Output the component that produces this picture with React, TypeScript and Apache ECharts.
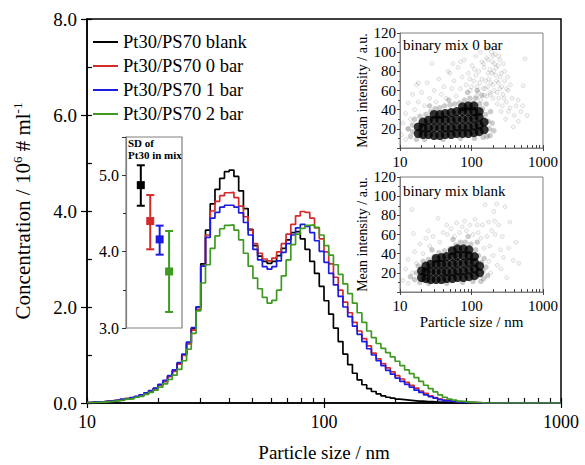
import React, { useEffect, useRef } from 'react';
import * as echarts from 'echarts';

const FONT = "'Liberation Serif', 'Times New Roman', serif";

// Histogram bin edges (nm), log-spaced
const binEdges = [
  10.0, 10.47, 10.96, 11.48, 12.02, 12.59, 13.18, 13.8, 14.45, 15.14,
  15.85, 16.6, 17.38, 18.2, 19.05, 19.95, 20.89, 21.88, 22.91, 23.99,
  25.12, 26.3, 27.54, 28.84, 30.2, 31.62, 33.11, 34.67, 36.31, 38.02,
  39.81, 41.69, 43.65, 45.71, 47.86, 50.12, 52.48, 54.95, 57.54, 60.26,
  63.1, 66.07, 69.18, 72.44, 75.86, 79.43, 83.18, 87.1, 91.2, 95.5,
  100.0, 104.7, 109.6, 114.8, 120.2, 125.9, 131.8, 138.0, 144.5, 151.4,
  158.5, 166.0, 173.8, 182.0, 190.5, 199.5, 208.9, 218.8, 229.1, 239.9,
  251.2, 263.0, 275.4, 288.4, 302.0, 316.2, 331.1, 346.7, 363.1, 380.2,
  398.1, 416.9, 436.5, 457.1, 478.6, 501.2, 524.8, 549.5, 575.4, 602.6,
  631.0, 660.7, 691.8, 724.4, 758.6, 794.3, 831.8, 871.0, 912.0, 955.0,
  1000.0,
];

// Concentration (10^6 # / ml) per bin
const blankConc = [
  0.01, 0.02, 0.02, 0.03, 0.04, 0.05, 0.06, 0.07, 0.09, 0.10,
  0.13, 0.16, 0.20, 0.25, 0.30, 0.38, 0.45, 0.56, 0.67, 0.82,
  1.00, 1.25, 1.55, 2.00, 2.90, 3.60, 4.15, 4.45, 4.68, 4.82,
  4.85, 4.72, 4.42, 4.05, 3.62, 3.28, 3.06, 2.95, 2.91, 2.95,
  3.07, 3.22, 3.40, 3.55, 3.57, 3.42, 3.20, 2.95, 2.70, 2.43,
  2.13, 1.85, 1.56, 1.28, 1.02, 0.80, 0.62, 0.48, 0.38, 0.30,
  0.24, 0.19, 0.15, 0.12, 0.10, 0.08, 0.07, 0.06, 0.05, 0.04,
  0.04, 0.03, 0.03, 0.02, 0.02, 0.02, 0.01, 0.01, 0.01, 0.01,
  0.01, 0.01, 0, 0, 0, 0, 0, 0, 0, 0,
  0, 0, 0, 0, 0, 0, 0, 0, 0, 0,
];
const bar0Conc = [
  0.01, 0.02, 0.02, 0.03, 0.04, 0.05, 0.06, 0.07, 0.09, 0.10,
  0.13, 0.16, 0.20, 0.25, 0.30, 0.37, 0.45, 0.55, 0.66, 0.81,
  0.99, 1.23, 1.52, 1.95, 2.85, 3.50, 4.00, 4.20, 4.32, 4.38,
  4.39, 4.28, 4.10, 3.88, 3.60, 3.32, 3.12, 3.00, 2.96, 3.02,
  3.15, 3.32, 3.52, 3.72, 3.90, 3.99, 3.97, 3.85, 3.65, 3.42,
  3.15, 2.90, 2.62, 2.35, 2.10, 1.88, 1.68, 1.50, 1.34, 1.19,
  1.04, 0.92, 0.82, 0.73, 0.65, 0.57, 0.50, 0.43, 0.37, 0.31,
  0.25, 0.20, 0.15, 0.11, 0.08, 0.06, 0.04, 0.03, 0.02, 0.02,
  0.01, 0.01, 0.01, 0, 0, 0, 0, 0, 0, 0,
  0, 0, 0, 0, 0, 0, 0, 0, 0, 0,
];
const bar1Conc = [
  0.01, 0.02, 0.02, 0.03, 0.04, 0.05, 0.06, 0.08, 0.09, 0.11,
  0.14, 0.17, 0.21, 0.26, 0.31, 0.39, 0.47, 0.57, 0.69, 0.84,
  1.02, 1.27, 1.57, 2.00, 2.85, 3.45, 3.85, 3.97, 4.08, 4.12,
  4.12, 4.08, 3.96, 3.76, 3.50, 3.20, 2.98, 2.84, 2.79, 2.84,
  2.96, 3.14, 3.32, 3.50, 3.65, 3.72, 3.68, 3.55, 3.38, 3.16,
  2.93, 2.70, 2.46, 2.22, 2.00, 1.80, 1.60, 1.43, 1.28, 1.13,
  1.00, 0.88, 0.78, 0.68, 0.60, 0.52, 0.45, 0.39, 0.33, 0.27,
  0.22, 0.17, 0.13, 0.10, 0.07, 0.05, 0.04, 0.03, 0.02, 0.01,
  0.01, 0.01, 0, 0, 0, 0, 0, 0, 0, 0,
  0, 0, 0, 0, 0, 0, 0, 0, 0, 0,
];
const bar2Conc = [
  0.01, 0.01, 0.02, 0.02, 0.03, 0.04, 0.05, 0.06, 0.08, 0.09,
  0.12, 0.14, 0.18, 0.22, 0.27, 0.33, 0.40, 0.49, 0.58, 0.70,
  0.88, 1.12, 1.45, 1.92, 2.50, 2.88, 3.22, 3.48, 3.63, 3.70,
  3.71, 3.60, 3.40, 3.12, 2.85, 2.60, 2.38, 2.20, 2.08, 2.14,
  2.35, 2.65, 2.98, 3.30, 3.52, 3.64, 3.70, 3.71, 3.66, 3.50,
  3.28, 3.08, 2.88, 2.68, 2.48, 2.28, 2.08, 1.88, 1.68, 1.50,
  1.36, 1.24, 1.14, 1.05, 0.96, 0.87, 0.78, 0.69, 0.61, 0.53,
  0.45, 0.37, 0.30, 0.23, 0.17, 0.12, 0.08, 0.06, 0.04, 0.03,
  0.02, 0.01, 0.01, 0, 0, 0, 0, 0, 0, 0,
  0, 0, 0, 0, 0, 0, 0, 0, 0, 0,
];

const seriesNames = ['Pt30/PS70 blank', 'Pt30/PS70 0 bar', 'Pt30/PS70 1 bar', 'Pt30/PS70 2 bar'];
const seriesColors = ['#000000', '#d42a2a', '#1c1ce0', '#3f9a22'];
const seriesValues = [blankConc, bar0Conc, bar1Conc, bar2Conc];

const yTickLabels = [0, 2, 4, 6, 8];
const logTickValues = [
  10, 20, 30, 40, 50, 60, 70, 80, 90,
  100, 200, 300, 400, 500, 600, 700, 800, 900, 1000,
];

// SD inset (Pt30 in mix)
const sdLabels = ['blank', '0 bar', '1 bar', '2 bar'];
const sdMean = [4.87, 4.40, 4.16, 3.74];
const sdLow = [4.60, 4.03, 3.96, 3.21];
const sdHigh = [5.13, 4.74, 4.34, 4.27];

// Scatter inset "binary mix 0 bar": [size nm, mean intensity]
const mix0Core = [
  [18, 15], [18, 22], [21, 14], [21, 21], [21, 27], [25, 14], [25, 21], [25, 29],
  [30, 13], [30, 21], [30, 29], [30, 35], [36, 13], [36, 21], [36, 29], [36, 35],
  [43, 14], [43, 21], [43, 29], [43, 36], [52, 14], [52, 21], [52, 29], [52, 37],
  [62, 15], [62, 22], [62, 30], [62, 38], [75, 15], [75, 22], [75, 30], [75, 38], [75, 43],
  [90, 15], [90, 22], [90, 30], [90, 38], [90, 44], [108, 16], [108, 23], [108, 31],
  [108, 38], [108, 44], [128, 17], [128, 24], [128, 32], [128, 38], [150, 19], [150, 27],
];
const mix0Halo = [
  [14, 12], [15, 17], [15, 24], [16, 30], [17, 9], [19, 33], [23, 35], [27, 38],
  [31, 41], [36, 42], [42, 44], [50, 45], [58, 46], [68, 47], [80, 50], [95, 52],
  [115, 52], [130, 46], [142, 41], [158, 35], [170, 28], [178, 20], [182, 13], [165, 12],
  [22, 9], [40, 9], [70, 10], [110, 10], [145, 11], [13, 20], [26, 44], [48, 50],
  [88, 58], [120, 60], [140, 55], [160, 46], [185, 38], [195, 26], [205, 18],
];
const mix0Sparse = [
  [10.5, 14], [11, 26], [12, 9], [12, 36], [13, 20], [13, 47], [14, 30], [15, 56],
  [16, 40], [17, 66], [18, 48], [20, 58], [22, 44], [24, 68], [26, 52], [28, 88],
  [30, 60], [32, 48], [35, 72], [38, 56], [41, 64], [44, 52], [47, 80], [50, 78],
  [53, 62], [57, 70], [61, 54], [65, 84], [70, 62], [74, 74], [79, 92], [84, 66],
  [90, 78], [96, 60], [102, 86], [108, 70], [114, 96], [120, 64], [126, 80], [133, 100],
  [140, 72], [147, 88], [155, 62], [162, 94], [170, 78], [178, 104], [186, 68], [195, 90],
  [204, 80], [214, 98], [224, 70], [235, 86], [248, 62], [260, 78], [275, 56], [290, 70],
  [305, 48], [325, 60], [345, 42], [370, 52], [395, 34], [420, 44], [450, 28], [490, 38],
  [530, 65], [560, 93], [600, 34], [385, 22], [300, 30], [260, 38], [230, 46], [200, 52],
  [180, 58], [165, 54], [150, 84], [190, 100], [210, 88], [240, 96], [280, 88], [320, 74],
  [180, 82], [140, 90], [110, 82], [95, 72], [70, 90], [55, 88], [240, 52], [270, 44],
  [330, 38], [18, 68], [450, 50], [520, 44],
  [105, 48], [118, 54], [125, 58], [135, 50], [145, 62], [152, 55], [158, 70], [168, 64],
  [175, 72], [185, 56], [192, 78], [198, 66], [208, 60], [218, 76], [228, 58], [238, 68],
  [252, 74], [265, 64], [285, 52], [310, 62], [220, 84], [200, 96], [170, 92], [160, 104],
  [130, 68], [115, 76], [100, 64], [250, 92], [290, 80], [350, 66],
];

// Scatter inset "binary mix blank"
const blankCore = [
  [20, 15], [20, 22], [23, 14], [23, 21], [23, 27], [27, 13], [27, 21], [27, 29],
  [32, 13], [32, 21], [32, 29], [32, 35], [38, 13], [38, 21], [38, 29], [38, 36],
  [45, 14], [45, 21], [45, 29], [45, 37], [54, 14], [54, 21], [54, 29], [54, 37], [54, 43],
  [64, 15], [64, 22], [64, 30], [64, 38], [64, 45], [77, 15], [77, 22], [77, 30], [77, 38],
  [77, 45], [92, 16], [92, 23], [92, 31], [92, 38], [92, 44], [110, 17], [110, 24],
  [110, 31], [110, 37], [130, 20], [130, 27],
];
const blankHalo = [
  [16, 13], [17, 20], [18, 27], [19, 10], [21, 32], [25, 34], [30, 37], [35, 41],
  [42, 43], [50, 45], [60, 49], [70, 52], [82, 52], [98, 50], [115, 44], [125, 38],
  [138, 31], [145, 22], [148, 14], [135, 11], [25, 9], [45, 9], [75, 10], [105, 11],
  [14, 16], [28, 44], [55, 55], [90, 58], [120, 52], [150, 35], [160, 26], [168, 17],
];
const blankSparse = [
  [11, 12], [12, 24], [13, 9], [13, 34], [14.6, 86], [15.4, 61], [15, 20], [16, 42],
  [17, 30], [19, 50], [21, 40], [23, 56], [26, 48], [29, 58], [34, 77], [36, 52],
  [40, 62], [46, 60], [52, 66], [58, 58], [62, 72], [68, 62], [74, 68], [85, 64],
  [95, 70], [105, 60], [112, 76], [124, 62], [135, 56], [142, 70], [155, 91], [165, 58],
  [172, 73], [180, 48], [192, 64], [205, 84], [215, 60], [225, 92], [240, 70], [255, 44],
  [270, 58], [295, 89], [310, 15], [330, 46], [345, 73], [385, 33], [420, 52], [460, 30],
  [200, 38], [175, 32], [230, 28], [260, 24], [185, 20], [150, 46], [120, 70], [80, 74],
  [45, 70], [25, 64], [210, 74], [280, 36],
];

const insetYTicks = [0, 20, 40, 60, 80, 100, 120];

function buildOption(): any {
  const log10 = (v: number) => Math.log10(v);
  const black = '#000';
  const gray = '#808080';

  const stepData = (vals: number[]) =>
    binEdges.map((e, i) => [e, vals[Math.min(i, vals.length - 1)]]);

  const mainSeries = seriesNames.map((name, i) => ({
    type: 'line',
    name,
    xAxisIndex: 0,
    yAxisIndex: 0,
    step: 'end',
    showSymbol: false,
    symbol: 'none',
    data: stepData(seriesValues[i]),
    lineStyle: { color: seriesColors[i], width: 1.7 },
    itemStyle: { color: seriesColors[i] },
    emphasis: { disabled: true },
    silent: true,
    z: 3 + i,
  }));

  const sdSeries = {
    type: 'custom',
    xAxisIndex: 2,
    yAxisIndex: 2,
    silent: true,
    clip: false,
    encode: { x: 0, y: [1, 2, 3] },
    data: sdLabels.map((_, i) => [i + 1, sdMean[i], sdLow[i], sdHigh[i]]),
    renderItem: (params: any, api: any) => {
      const x = api.value(0);
      const pm = api.coord([x, api.value(1)]);
      const pl = api.coord([x, api.value(2)]);
      const ph = api.coord([x, api.value(3)]);
      const c = seriesColors[params.dataIndex];
      const cap = 4;
      return {
        type: 'group',
        children: [
          { type: 'line', shape: { x1: pl[0], y1: pl[1], x2: ph[0], y2: ph[1] }, style: { stroke: c, lineWidth: 2 } },
          { type: 'line', shape: { x1: pl[0] - cap, y1: pl[1], x2: pl[0] + cap, y2: pl[1] }, style: { stroke: c, lineWidth: 2 } },
          { type: 'line', shape: { x1: ph[0] - cap, y1: ph[1], x2: ph[0] + cap, y2: ph[1] }, style: { stroke: c, lineWidth: 2 } },
          { type: 'rect', shape: { x: pm[0] - 4, y: pm[1] - 4, width: 8, height: 8 }, style: { fill: c } },
        ],
      };
    },
  };

  const scatter = (data: number[][], xi: number, yi: number, kind: string) => {
    const base: any = {
      type: 'scatter',
      xAxisIndex: xi,
      yAxisIndex: yi,
      data,
      symbol: 'circle',
      silent: true,
      emphasis: { disabled: true },
    };
    if (kind === 'sparse') {
      base.symbolSize = 4;
      base.itemStyle = { color: 'rgba(0,0,0,0.05)', borderColor: 'rgba(0,0,0,0.2)', borderWidth: 0.7 };
      base.z = 2;
    } else if (kind === 'halo') {
      base.symbolSize = 5.5;
      base.itemStyle = { color: 'rgba(0,0,0,0.25)' };
      base.z = 3;
    } else {
      base.symbolSize = 9;
      base.itemStyle = { color: '#000' };
      base.z = 4;
    }
    return base;
  };

  const insetLogAxis = (gridIndex: number, withName: boolean) => ({
    gridIndex,
    type: 'log',
    logBase: 10,
    min: 10,
    max: 1000,
    position: 'bottom',
    axisLine: { show: true, onZero: false, lineStyle: { color: gray, width: 1 } },
    axisTick: { show: true, inside: false, length: 3, lineStyle: { color: '#444', width: 1 } },
    axisLabel: { show: true, fontSize: 15, fontFamily: FONT, color: black, margin: 6, formatter: (v: number) => String(Math.round(v)) },
    splitLine: { show: false },
    name: withName ? 'Particle size / nm' : '',
    nameLocation: 'middle',
    nameGap: 22,
    nameTextStyle: { fontSize: 15, fontFamily: FONT, color: black },
  });
  const insetMinorAxis = (gridIndex: number) => ({
    gridIndex,
    type: 'value',
    min: 1,
    max: 3,
    position: 'bottom',
    axisLine: { show: false, onZero: false },
    axisTick: { show: true, inside: true, length: 3, customValues: logTickValues.map(log10), lineStyle: { color: '#444', width: 1 } },
    axisLabel: { show: false },
    splitLine: { show: false },
  });
  const insetYAxis = (gridIndex: number) => ({
    gridIndex,
    type: 'value',
    min: insetYTicks[0],
    max: insetYTicks[insetYTicks.length - 1],
    interval: 20,
    position: 'left',
    axisLine: { show: true, onZero: false, lineStyle: { color: gray, width: 1 } },
    axisTick: { show: true, inside: false, length: 3, lineStyle: { color: '#444', width: 1 } },
    minorTick: { show: true, splitNumber: 2, length: 2, lineStyle: { color: '#444', width: 1 } },
    axisLabel: { show: true, fontSize: 15, fontFamily: FONT, color: black, margin: 4, verticalAlignMinLabel: 'bottom' },
    splitLine: { show: false },
    minorSplitLine: { show: false },
    name: 'Mean intensity / a.u.',
    nameLocation: 'middle',
    nameGap: 30,
    nameTextStyle: { fontSize: 14, fontFamily: FONT, color: black },
  });

  return {
    animation: false,
    backgroundColor: '#fff',
    textStyle: { fontFamily: FONT },
    grid: [
      { left: 87, top: 19, width: 474, height: 384, show: true, borderColor: black, borderWidth: 1.5, backgroundColor: 'transparent', outerBoundsMode: 'none', containLabel: false },
      { left: 126, top: 137, width: 56, height: 191, show: true, borderColor: gray, borderWidth: 1.2, backgroundColor: '#fff', outerBoundsMode: 'none', containLabel: false },
      { left: 400, top: 33, width: 143, height: 115, show: true, borderColor: gray, borderWidth: 1, backgroundColor: '#fff', outerBoundsMode: 'none', containLabel: false },
      { left: 400, top: 177, width: 143, height: 115, show: true, borderColor: gray, borderWidth: 1, backgroundColor: '#fff', outerBoundsMode: 'none', containLabel: false },
    ],
    legend: {
      show: true,
      data: seriesNames,
      orient: 'vertical',
      left: 93,
      top: 30,
      padding: 0,
      itemGap: 0,
      itemWidth: 25,
      itemHeight: 2,
      icon: 'rect',
      itemStyle: { borderWidth: 0 },
      textStyle: { fontSize: 18.5, fontFamily: FONT, color: black, lineHeight: 24 },
      selectedMode: false,
    },
    xAxis: [
      {
        gridIndex: 0,
        type: 'log',
        logBase: 10,
        min: 10,
        max: 1000,
        position: 'bottom',
        axisLine: { show: true, onZero: false, lineStyle: { color: black, width: 1.5 } },
        axisTick: { show: true, inside: false, length: 5, lineStyle: { color: black, width: 1.2 } },
        axisLabel: { show: true, fontSize: 18, fontFamily: FONT, color: black, margin: 10, formatter: (v: number) => String(Math.round(v)) },
        splitLine: { show: false },
        name: 'Particle size / nm',
        nameLocation: 'middle',
        nameGap: 40,
        nameTextStyle: { fontSize: 19, fontFamily: FONT, color: black },
      },
      {
        gridIndex: 0,
        type: 'value',
        min: 1,
        max: 3,
        position: 'bottom',
        axisLine: { show: false, onZero: false },
        axisTick: { show: true, inside: true, length: 5, customValues: logTickValues.map(log10), lineStyle: { color: black, width: 1.2 } },
        axisLabel: { show: false },
        splitLine: { show: false },
      },
      {
        gridIndex: 1,
        type: 'value',
        min: -0.57,
        max: 5.37,
        show: false,
        axisLine: { onZero: false },
        splitLine: { show: false },
      },
      insetLogAxis(2, false),
      insetMinorAxis(2),
      insetLogAxis(3, true),
      insetMinorAxis(3),
    ],
    yAxis: [
      {
        gridIndex: 0,
        type: 'value',
        min: yTickLabels[0],
        max: yTickLabels[yTickLabels.length - 1],
        interval: 2,
        position: 'left',
        axisLine: { show: true, onZero: false, lineStyle: { color: black, width: 1.5 } },
        axisTick: { show: true, inside: false, length: 6, lineStyle: { color: black, width: 1.2 } },
        axisLabel: { show: true, fontSize: 19, fontFamily: FONT, color: black, margin: 10, formatter: (v: number) => v.toFixed(1) },
        splitLine: { show: false },
        name: '{a|Concentration / 10}{s|6}{a| # ml}{s|-1}',
        nameLocation: 'middle',
        nameGap: 52,
        nameTextStyle: {
          color: black,
          rich: {
            a: { fontSize: 21, fontFamily: FONT, color: black, lineHeight: 24 },
            s: { fontSize: 13, fontFamily: FONT, color: black, lineHeight: 13, verticalAlign: 'top' },
          },
        },
      },
      {
        gridIndex: 0,
        type: 'value',
        min: 0,
        max: 8,
        interval: 1,
        position: 'left',
        axisLine: { show: false, onZero: false },
        axisTick: { show: true, inside: true, length: 5, lineStyle: { color: black, width: 1.2 } },
        axisLabel: { show: false },
        splitLine: { show: false },
      },
      {
        gridIndex: 1,
        type: 'value',
        min: 3,
        max: 5.5,
        interval: 1,
        position: 'left',
        axisLine: { show: true, onZero: false, lineStyle: { color: gray, width: 1.2 } },
        axisTick: { show: true, inside: false, length: 4, lineStyle: { color: '#333', width: 1 } },
        minorTick: { show: true, splitNumber: 2, length: 3, lineStyle: { color: '#333', width: 1 } },
        axisLabel: { show: true, showMaxLabel: false, fontSize: 16, fontFamily: FONT, color: black, margin: 7, formatter: (v: number) => (Number.isInteger(v) ? v.toFixed(1) : '') },
        splitLine: { show: false },
        minorSplitLine: { show: false },
      },
      insetYAxis(2),
      insetYAxis(3),
    ],
    graphic: [
      { type: 'text', left: 128, top: 137, silent: true, style: { text: 'SD of\nPt30 in mix', font: `bold 11px ${FONT}`, fill: black, lineHeight: 12 } },
      { type: 'text', left: 403, top: 37, silent: true, style: { text: 'binary mix 0 bar', font: `15px ${FONT}`, fill: black } },
      { type: 'text', left: 403, top: 183, silent: true, style: { text: 'binary mix blank', font: `15px ${FONT}`, fill: black } },
    ],
    series: [
      ...mainSeries,
      sdSeries,
      scatter(mix0Sparse, 3, 3, 'sparse'),
      scatter(mix0Halo, 3, 3, 'halo'),
      scatter(mix0Core, 3, 3, 'core'),
      scatter(blankSparse, 5, 4, 'sparse'),
      scatter(blankHalo, 5, 4, 'halo'),
      scatter(blankCore, 5, 4, 'core'),
    ],
  };
}

export default function App() {
  const ref = useRef<HTMLDivElement>(null);
  useEffect(() => {
    document.body.style.margin = '0';
    const chart = echarts.init(ref.current as HTMLDivElement, null, { renderer: 'svg' });
    chart.setOption(buildOption());
    return () => {
      chart.dispose();
    };
  }, []);
  return (
    <div
      ref={ref}
      style={{ position: 'absolute', left: 0, top: 0, width: 585, height: 465, background: '#fff' }}
    />
  );
}
